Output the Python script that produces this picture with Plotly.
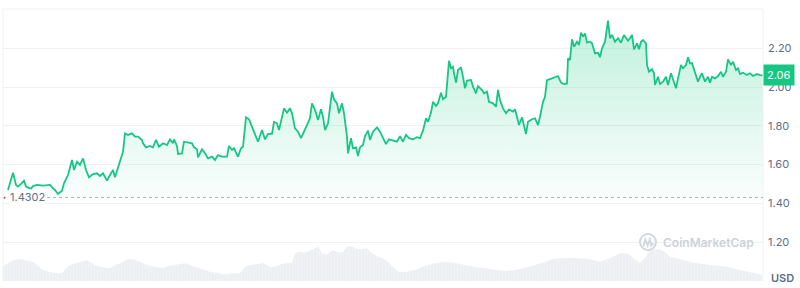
import plotly.graph_objects as go

# ---------------- data ----------------
# hours since start of the period, and price in USD
hours = [0, 5, 8, 10, 13, 16, 18, 20, 23, 25, 29, 35, 42, 45, 47, 50, 54, 56, 58, 60,
         64, 66, 69, 72, 75, 78, 81, 85, 89, 92, 95, 99, 101, 105, 107, 110, 115, 117, 120, 124,
         127, 130, 134, 135, 138, 142, 145, 148, 151, 155, 159, 162, 165, 166, 169, 170, 174, 176, 180, 184,
         186, 189, 190, 194, 197, 200, 204, 207, 210, 214, 219, 221, 224, 226, 230, 233, 235, 238, 241, 244,
         247, 250, 254, 257, 260, 264, 266, 269, 271, 274, 276, 279, 282, 284, 287, 290, 293, 296, 300, 302,
         304, 307, 310, 313, 315, 317, 320, 324, 326, 329, 331, 334, 336, 339, 340, 343, 345, 348, 350, 352,
         355, 357, 360, 362, 365, 369, 372, 375, 378, 381, 385, 389, 392, 395, 398, 401, 405, 409, 412, 415,
         418, 420, 423, 425, 428, 430, 433, 435, 438, 441, 443, 445, 446, 448, 450, 453, 455, 457, 459, 463,
         465, 468, 470, 474, 476, 479, 481, 485, 488, 490, 492, 495, 498, 501, 505, 507, 509, 511, 514, 516,
         518, 520, 524, 527, 530, 532, 535, 537, 539, 544, 547, 550, 553, 556, 559, 560, 562, 564, 566, 569,
         571, 573, 575, 577, 579, 582, 584, 587, 590, 592, 594, 597, 600, 602, 604, 607, 610, 613, 616, 620,
         622, 624, 626, 629, 631, 633, 635, 638, 639, 641, 644, 646, 647, 650, 652, 655, 658, 660, 663, 665,
         668, 670, 673, 675, 678, 680, 682, 684, 687, 690, 692, 694, 697, 700, 702, 704, 707, 710, 713, 715,
         718, 720, 723, 725, 728, 730, 732, 735, 739, 742, 745, 749, 752, 755]
price = [1.469, 1.558, 1.495, 1.486, 1.500, 1.517, 1.486, 1.483, 1.475, 1.489, 1.495, 1.491, 1.495, 1.477, 1.469, 1.448, 1.465, 1.503, 1.529, 1.546,
         1.624, 1.572, 1.615, 1.598, 1.632, 1.572, 1.534, 1.551, 1.555, 1.541, 1.555, 1.517, 1.537, 1.572, 1.534, 1.581, 1.666, 1.761, 1.753, 1.761,
         1.744, 1.744, 1.727, 1.710, 1.689, 1.696, 1.689, 1.727, 1.692, 1.710, 1.701, 1.730, 1.710, 1.730, 1.696, 1.655, 1.658, 1.718, 1.713, 1.710,
         1.689, 1.679, 1.637, 1.679, 1.658, 1.632, 1.641, 1.624, 1.649, 1.641, 1.641, 1.696, 1.675, 1.684, 1.641, 1.684, 1.692, 1.844, 1.834, 1.795,
         1.753, 1.718, 1.778, 1.730, 1.758, 1.758, 1.821, 1.813, 1.778, 1.847, 1.890, 1.868, 1.890, 1.865, 1.787, 1.770, 1.736, 1.770, 1.813, 1.839,
         1.916, 1.882, 1.830, 1.885, 1.847, 1.778, 1.813, 1.976, 1.937, 1.916, 1.865, 1.916, 1.865, 1.744, 1.658, 1.736, 1.684, 1.689, 1.644, 1.689,
         1.701, 1.747, 1.775, 1.727, 1.770, 1.792, 1.770, 1.736, 1.706, 1.730, 1.723, 1.718, 1.747, 1.718, 1.753, 1.736, 1.730, 1.741, 1.736, 1.775,
         1.839, 1.821, 1.868, 1.924, 1.902, 1.916, 1.971, 1.937, 1.950, 2.136, 2.097, 2.105, 2.071, 2.023, 2.088, 2.102, 2.053, 1.994, 2.033, 2.036,
         2.002, 1.968, 2.005, 1.985, 1.968, 1.976, 1.924, 1.916, 1.899, 1.985, 1.933, 1.890, 1.865, 1.885, 1.873, 1.885, 1.847, 1.804, 1.844, 1.792,
         1.758, 1.821, 1.834, 1.839, 1.804, 1.847, 1.924, 1.950, 2.036, 2.045, 2.050, 2.057, 2.023, 2.016, 2.019, 2.148, 2.140, 2.247, 2.208, 2.234,
         2.217, 2.281, 2.260, 2.277, 2.229, 2.234, 2.226, 2.174, 2.177, 2.154, 2.200, 2.234, 2.343, 2.252, 2.269, 2.234, 2.252, 2.229, 2.269, 2.239,
         2.252, 2.269, 2.195, 2.226, 2.195, 2.234, 2.243, 2.226, 2.114, 2.079, 2.092, 2.071, 2.011, 2.053, 2.016, 2.028, 2.053, 2.011, 2.071, 2.036,
         1.994, 2.045, 2.114, 2.097, 2.114, 2.154, 2.123, 2.123, 2.071, 2.028, 2.053, 2.071, 2.028, 2.053, 2.023, 2.053, 2.045, 2.057, 2.079, 2.053,
         2.079, 2.143, 2.114, 2.131, 2.088, 2.097, 2.067, 2.074, 2.062, 2.071, 2.057, 2.067, 2.062, 2.060]

# trading volume (millions USD, relative)
vol_hours = [-5, -1, 4, 9, 14, 19, 25, 30, 35, 42, 49, 54, 57, 62, 69, 75, 79, 84, 89, 95,
             102, 107, 114, 119, 125, 130, 135, 142, 149, 155, 160, 165, 172, 177, 182, 189, 195, 202, 209, 214,
             219, 225, 232, 237, 242, 249, 255, 260, 264, 269, 274, 279, 284, 287, 292, 297, 302, 307, 310, 314,
             319, 322, 325, 329, 334, 339, 344, 347, 352, 359, 364, 369, 375, 380, 385, 390, 397, 407, 417, 427,
             437, 447, 457, 467, 477, 487, 497, 507, 517, 527, 537, 544, 552, 567, 582, 592, 602, 612, 619, 625,
             632, 637, 642, 647, 652, 657, 662, 672, 685, 702, 719, 732, 745, 754]
volume = [150, 177, 203, 217, 217, 203, 193, 150, 110, 90, 77, 77, 117, 160, 183, 203, 210, 177, 150, 137,
          127, 160, 183, 217, 217, 203, 177, 150, 137, 127, 150, 160, 170, 177, 160, 137, 110, 93, 83, 67,
          70, 77, 77, 143, 160, 170, 177, 150, 137, 150, 170, 177, 183, 277, 293, 283, 303, 327, 343, 277,
          260, 293, 310, 293, 283, 343, 350, 327, 317, 327, 277, 250, 227, 193, 143, 93, 90, 110, 150, 180,
          190, 180, 160, 140, 130, 110, 100, 110, 130, 160, 190, 220, 227, 230, 220, 193, 230, 277, 277, 230,
          180, 230, 310, 317, 317, 290, 243, 220, 183, 160, 143, 110, 77, 60]

base_price = 1.4302
last_price = 2.06
tick_vals = [1.20, 1.40, 1.60, 1.80, 2.00, 2.20]
tick_text = ["1.20", "1.40", "1.60", "1.80", "2.00", "2.20"]

GREEN = "#16c784"
GRID = "#eff2f5"
TXT = "#616e85"

# plot-area geometry (pixels) for decorations
L, R, T, B = 3, 763, 9, 281
W, H = 800, 288


def px(x):
    return (x - L) / (R - L)


def py(y):
    return (B - y) / (B - T)


fig = go.Figure()

fig.add_trace(go.Scatter(
    x=vol_hours, y=volume, yaxis="y2", mode="lines", line=dict(width=0, color="#eef0f3"),
    fill="tozeroy", fillcolor="#eef0f3",
    fillpattern=dict(shape="|", bgcolor="#edeff2", fgcolor="#f7f8fa", size=3, solidity=0.25),
    hoverinfo="skip", showlegend=False))

fig.add_trace(go.Scatter(
    x=hours, y=[base_price] * len(hours), mode="lines", line=dict(width=0),
    hoverinfo="skip", showlegend=False))

fig.add_trace(go.Scatter(
    x=hours, y=price, mode="lines", line=dict(color=GREEN, width=1.8),
    fill="tonexty",
    fillgradient=dict(type="vertical", start=base_price, stop=2.35,
                      colorscale=[[0, "rgba(22,199,132,0.02)"], [1, "rgba(22,199,132,0.27)"]]),
    showlegend=False))

shapes = [
    dict(type="line", xref="paper", yref="paper", x0=0, x1=1, y0=1, y1=1, line=dict(color=GRID, width=1)),
    dict(type="line", xref="paper", yref="paper", x0=0, x1=0, y0=0, y1=1, line=dict(color=GRID, width=1)),
    dict(type="line", xref="paper", yref="paper", x0=1, x1=1, y0=0, y1=1, line=dict(color=GRID, width=1)),
    dict(type="line", xref="paper", yref="y", x0=px(41), x1=1, y0=base_price, y1=base_price,
         line=dict(color="#a9b0bd", width=1, dash="dot")),
    dict(type="circle", xref="paper", yref="paper", x0=px(3.5), x1=px(5.5),
         y0=py(198.7), y1=py(196.7), fillcolor="#ea3943", line=dict(width=0)),
    # CoinMarketCap logo
    dict(type="circle", xref="paper", yref="paper", x0=px(640), x1=px(656),
         y0=py(250), y1=py(234), line=dict(color="#d3d7de", width=2)),
    dict(type="path", xref="paper", yref="paper",
         path=(f"M {px(643.5)} {py(246.5)} L {px(645.3)} {py(239.5)} L {px(647.6)} {py(245.5)} "
               f"L {px(649.8)} {py(239.5)} L {px(651.2)} {py(245.5)} L {px(653.5)} {py(243.5)}"),
         line=dict(color="#d3d7de", width=2)),
]

annotations = [
    dict(text=f"{last_price:.2f}", xref="paper", yref="y", x=1, y=last_price, xanchor="left",
         yanchor="middle", showarrow=False, bgcolor=GREEN, borderpad=3,
         font=dict(family="Inter", size=11, color="white")),
    dict(text="USD", xref="paper", yref="paper", x=1, y=py(278), xanchor="left", xshift=6,
         yanchor="middle", showarrow=False, font=dict(family="Inter", size=11, color=TXT, weight=600)),
    dict(text=f"{base_price}", xref="paper", yref="y", x=px(8.5), y=base_price, xanchor="left",
         yanchor="middle", showarrow=False, bgcolor="white", borderpad=0,
         font=dict(family="Inter", size=11, color=TXT)),
    dict(text="CoinMarketCap", xref="paper", yref="paper", x=px(661), y=py(242.5), xanchor="left",
         yanchor="middle", showarrow=False,
         font=dict(family="Inter", size=12, color="#cdd2d9", weight=600)),
]

fig.update_layout(
    width=W, height=H,
    margin=dict(l=L, r=W - R, t=T, b=H - B),
    paper_bgcolor="white", plot_bgcolor="white",
    showlegend=False,
    xaxis=dict(range=[-5, 755], showgrid=False, zeroline=False, showticklabels=False,
               showline=False, fixedrange=True),
    yaxis=dict(range=[0.999, 2.403], side="right", tickvals=tick_vals, ticktext=tick_text,
               showgrid=True, gridcolor=GRID, gridwidth=1, zeroline=False, showline=False,
               ticks="", ticklabelstandoff=4,
               tickfont=dict(family="Inter", size=11, color=TXT)),
    yaxis2=dict(range=[0, 2720], overlaying="y", side="left", visible=False, showgrid=False),
    shapes=shapes,
    annotations=annotations,
)

fig.write_html("out.html")
